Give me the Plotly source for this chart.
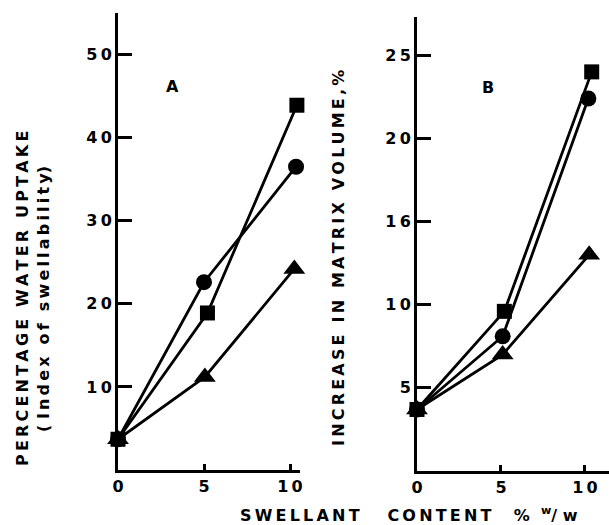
import plotly.graph_objects as go

# Panel A: percentage water uptake
a_x_square = [0, 5.2, 10.4]
a_y_square = [3.7, 18.9, 43.9]
a_x_circle = [0, 5.0, 10.35]
a_y_circle = [3.7, 22.6, 36.5]
a_x_triangle = [0, 5.05, 10.25]
a_y_triangle = [3.7, 11.2, 24.2]

# Panel B: increase in matrix volume
b_x_square = [0, 5.2, 10.4]
b_y_square = [3.7, 9.6, 24.0]
b_x_circle = [0, 5.1, 10.2]
b_y_circle = [3.7, 8.1, 22.4]
b_x_triangle = [0, 5.1, 10.25]
b_y_triangle = [3.7, 7.0, 13.0]

a_tickvals = [10, 20, 30, 40, 50]
a_ticktext = ["10", "20", "30", "40", "50"]
b_tickvals = [5, 10, 15, 20, 25]
b_ticktext = ["5", "10", "16", "20", "25"]
x_tickvals = [0, 5, 10]
x_ticktext = ["0", "5", "10"]

W, H = 609, 525
FONT = "DejaVu Sans"

fig = go.Figure()

def add_series(xs, ys, symbol, size, xa, ya):
    fig.add_trace(go.Scatter(
        x=xs, y=ys, mode="lines+markers",
        line=dict(color="black", width=2.8),
        marker=dict(symbol=symbol, size=size, color="black"),
        xaxis=xa, yaxis=ya, showlegend=False, cliponaxis=False))

add_series(a_x_square, a_y_square, "square", 15, "x", "y")
add_series(a_x_circle, a_y_circle, "circle", 16, "x", "y")
add_series(a_x_triangle, a_y_triangle, "triangle-up", 19, "x", "y")
add_series(b_x_square, b_y_square, "square", 15, "x2", "y2")
add_series(b_x_circle, b_y_circle, "circle", 16, "x2", "y2")
add_series(b_x_triangle, b_y_triangle, "triangle-up", 19, "x2", "y2")

def px(x):
    return x / W

def py(y):
    return 1 - y / H

def sp(s):
    return "\u2009".join(s)

tickfont = dict(family=FONT, size=16, color="black", weight="bold")
common_axis = dict(showline=True, linecolor="black", linewidth=3, showgrid=False,
                   zeroline=False, ticks="inside", tickcolor="black", tickwidth=2.5,
                   tickfont=tickfont, automargin=False)

fig.update_layout(
    width=W, height=H,
    margin=dict(l=0, r=0, t=0, b=0),
    paper_bgcolor="white", plot_bgcolor="white",
    xaxis=dict(domain=[px(118), px(300)], range=[0, 10.58], anchor="y",
               tickvals=x_tickvals, ticktext=[sp(t) for t in x_ticktext], ticklen=6,
               ticklabelstandoff=0, **common_axis),
    yaxis=dict(domain=[py(470), py(13)], range=[0, 55], anchor="x",
               tickvals=a_tickvals, ticktext=[sp(t) for t in a_ticktext], ticklen=14,
               **common_axis),
    xaxis2=dict(domain=[px(417), 1.0], range=[0, 11.43], anchor="y2",
                tickvals=x_tickvals, ticktext=[sp(t) for t in x_ticktext], ticklen=6,
                ticklabelstandoff=0, **common_axis),
    yaxis2=dict(domain=[py(471), py(17)], range=[0, 27.3], anchor="x2",
                tickvals=b_tickvals, ticktext=[sp(t) for t in b_ticktext], ticklen=14,
                **common_axis),
)

ann_font = dict(family=FONT, size=16, color="black", weight="bold")
def note(x, y, text, angle=0):
    fig.add_annotation(x=px(x), y=py(y), xref="paper", yref="paper",
                       xanchor="center", yanchor="middle", text=text,
                       textangle=angle, showarrow=False, font=ann_font)

note(22, 299, sp("PERCENTAGE WATER UPTAKE"), -90)
note(43, 299, "( " + sp("Index of swellability") + ")", -90)
note(338, 258, sp("INCREASE IN MATRIX VOLUME,%"), -90)
note(409, 514, sp("SWELLANT") + "     " + sp("CONTENT") + "    %  <sup>w</sup>/ w")
note(172, 86, "A")
note(488, 88, "B")

fig.write_html("out.html", config={"displayModeBar": False},
               post_script="document.body.style.margin='0';document.body.style.overflow='hidden';")
